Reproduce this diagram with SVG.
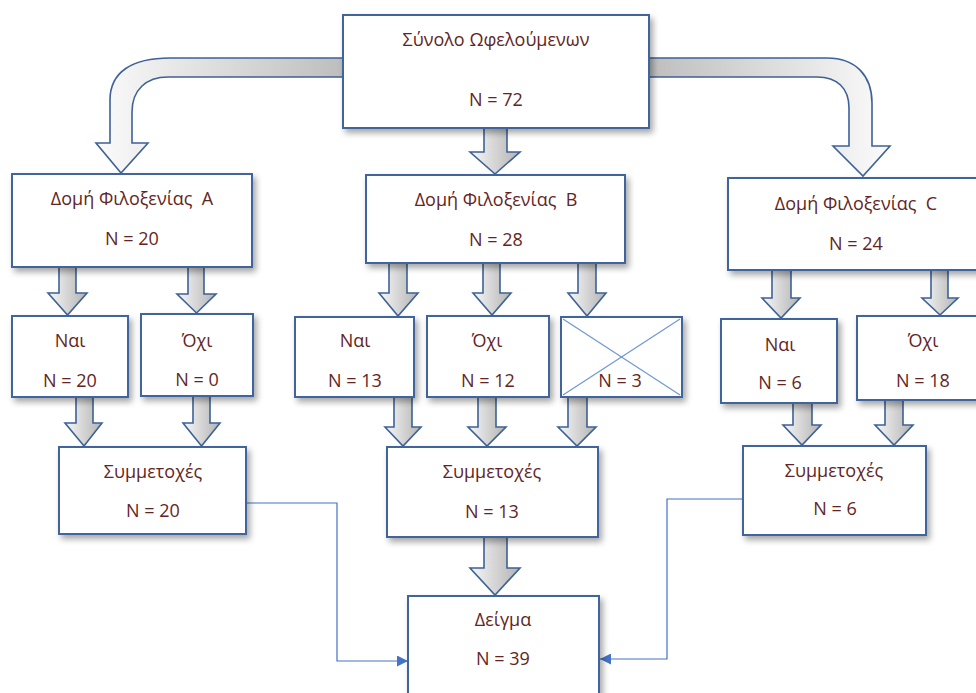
<svg xmlns="http://www.w3.org/2000/svg" width="976" height="693" viewBox="0 0 976 693">
<defs>
<style>
.box{fill:#ffffff;stroke:#41659c;stroke-width:2;filter:url(#sh)}
.t{font-family:"Open Sans","Noto Sans",sans-serif;font-size:18px;fill:#632523;text-anchor:middle}
.ba{fill:url(#gd);stroke:#3e6296;stroke-width:1.6;stroke-linejoin:miter}
.ln{fill:none;stroke:#4472c4;stroke-width:1.2}
.x{stroke:#6f97d3;stroke-width:1.2}
</style>
<filter id="sh" x="-10%" y="-10%" width="125%" height="130%">
<feDropShadow dx="3" dy="4" stdDeviation="3" flood-color="#000" flood-opacity="0.35"/>
</filter>
<linearGradient id="gd" x1="0" y1="0" x2="1" y2="0">
<stop offset="0" stop-color="#f7f7f7"/>
<stop offset="1" stop-color="#b3b3b3"/>
</linearGradient>
<linearGradient id="gl" x1="0" y1="0" x2="1" y2="0">
<stop offset="0" stop-color="#fbfbfb"/>
<stop offset="1" stop-color="#bdbdbd"/>
</linearGradient>
<linearGradient id="gr" x1="0" y1="0" x2="1" y2="0">
<stop offset="0" stop-color="#bdbdbd"/>
<stop offset="1" stop-color="#fbfbfb"/>
</linearGradient>
<marker id="ah" viewBox="0 0 10 10" refX="10" refY="5" markerWidth="11" markerHeight="11" markerUnits="userSpaceOnUse" orient="auto">
<path d="M0,0 L10,5 L0,10 Z" fill="#4472c4"/>
</marker>
</defs>

<g id="connectors">
<path class="ba" style="fill:url(#gl)" d="M345,58 L170,58 C132,58 110,72 110,100 L110,143 L96,143 L121,173 L148,143 L132,143 L132,112 C132,90 146,77 168,77 L345,77 Z"/>
<path class="ba" style="fill:url(#gr)" d="M647,58 L827,58 C856,58 872,76 872,103 L872,146 L890,146 L863,176 L833,146 L849,146 L849,108 C849,88 837,77 817,77 L647,77 Z"/>
<path class="ba" d="M484,124 L507,124 L507,152 L520,152 L495,174 L470,152 L484,152 Z"/>
<path class="ba" d="M59,262 L76,262 L76,293 L87,293 L67.5,315 L48,293 L59,293 Z"/>
<path class="ba" d="M188,262 L204,262 L204,294 L216,294 L196.5,313 L177,294 L188,294 Z"/>
<path class="ba" d="M76,393 L93,393 L93,423 L102,423 L84,446 L65,423 L76,423 Z"/>
<path class="ba" d="M193,392 L210,392 L210,423 L220,423 L201.5,446 L183,423 L193,423 Z"/>
<path class="ba" d="M389,259 L407,259 L407,293 L418,293 L398,316 L379,293 L389,293 Z"/>
<path class="ba" d="M483,259 L500,259 L500,293 L511,293 L492,315 L473,293 L483,293 Z"/>
<path class="ba" d="M578,259 L596,259 L596,293 L606,293 L587,316 L568,293 L578,293 Z"/>
<path class="ba" d="M394,393 L412,393 L412,427 L421,427 L403,446 L385,427 L394,427 Z"/>
<path class="ba" d="M478,393 L496,393 L496,427 L506,427 L487,446 L468,427 L478,427 Z"/>
<path class="ba" d="M568,393 L587,393 L587,427 L596,427 L577,446 L558,427 L568,427 Z"/>
<path class="ba" d="M772,266 L791,266 L791,298 L800,298 L781,318 L762,298 L772,298 Z"/>
<path class="ba" d="M931,266 L948,266 L948,298 L958,298 L940,315 L922,298 L931,298 Z"/>
<path class="ba" d="M793,399 L812,399 L812,425 L821,425 L802,445 L783,425 L793,425 Z"/>
<path class="ba" d="M885,396 L903,396 L903,425 L913,425 L894,445 L875,425 L885,425 Z"/>
<path class="ba" d="M484,533 L507,533 L507,568 L520,568 L495,595 L470,568 L484,568 Z"/>
<path class="ln" marker-end="url(#ah)" d="M246,503 H337 V661 H408"/>
<path class="ln" marker-end="url(#ah)" d="M743,499 H667 V659 H600"/>
</g>

<g id="total">
<rect class="box" x="343" y="15" width="306" height="113"/>
<text class="t" x="496" y="46">Σύνολο Ωφελούμενων</text>
<text class="t" x="496" y="106">N = 72</text>
</g>
<g id="structA">
<rect class="box" x="12" y="174" width="240" height="93"/>
<text class="t" x="132" y="205" xml:space="preserve">Δομή Φιλοξενίας  A</text>
<text class="t" x="132" y="245">N = 20</text>
</g>
<g id="structB">
<rect class="box" x="366" y="175" width="259" height="88"/>
<text class="t" x="496" y="206" xml:space="preserve">Δομή Φιλοξενίας  B</text>
<text class="t" x="496" y="246">N = 28</text>
</g>
<g id="structC">
<rect class="box" x="728" y="178" width="256" height="92"/>
<text class="t" x="856" y="210" xml:space="preserve">Δομή Φιλοξενίας  C</text>
<text class="t" x="856" y="250">N = 24</text>
</g>
<g id="yesA">
<rect class="box" x="12" y="316" width="116" height="81"/>
<text class="t" x="70" y="347">Ναι</text>
<text class="t" x="70" y="387">N = 20</text>
</g>
<g id="noA">
<rect class="box" x="141" y="314" width="112" height="82"/>
<text class="t" x="197" y="347">Όχι</text>
<text class="t" x="197" y="386">N = 0</text>
</g>
<g id="partA">
<rect class="box" x="59" y="447" width="187" height="87"/>
<text class="t" x="153" y="478">Συμμετοχές</text>
<text class="t" x="153" y="517">N = 20</text>
</g>
<g id="yesB">
<rect class="box" x="295" y="317" width="119" height="80"/>
<text class="t" x="355" y="347">Ναι</text>
<text class="t" x="355" y="387">N = 13</text>
</g>
<g id="noB">
<rect class="box" x="427" y="316" width="122" height="81"/>
<text class="t" x="487" y="347">Όχι</text>
<text class="t" x="488" y="387">N = 12</text>
</g>
<g id="excludedB">
<rect class="box" x="561" y="317" width="121" height="80"/>
<line class="x" x1="563" y1="319" x2="680" y2="395"/>
<line class="x" x1="680" y1="319" x2="563" y2="395"/>
<text class="t" x="620" y="387">N = 3</text>
</g>
<g id="partB">
<rect class="box" x="387" y="447" width="211" height="90"/>
<text class="t" x="492" y="478">Συμμετοχές</text>
<text class="t" x="492" y="518">N = 13</text>
</g>
<g id="yesC">
<rect class="box" x="721" y="319" width="116" height="84"/>
<text class="t" x="780" y="351">Ναι</text>
<text class="t" x="780" y="389">N = 6</text>
</g>
<g id="noC">
<rect class="box" x="857" y="316" width="125" height="84"/>
<text class="t" x="923" y="347">Όχι</text>
<text class="t" x="923" y="387">N = 18</text>
</g>
<g id="partC">
<rect class="box" x="743" y="446" width="183" height="89"/>
<text class="t" x="834" y="477">Συμμετοχές</text>
<text class="t" x="835" y="515">N = 6</text>
</g>
<g id="sample">
<rect class="box" x="408" y="596" width="191" height="110"/>
<text class="t" x="503" y="626">Δείγμα</text>
<text class="t" x="503" y="665">N = 39</text>
</g>
</svg>
